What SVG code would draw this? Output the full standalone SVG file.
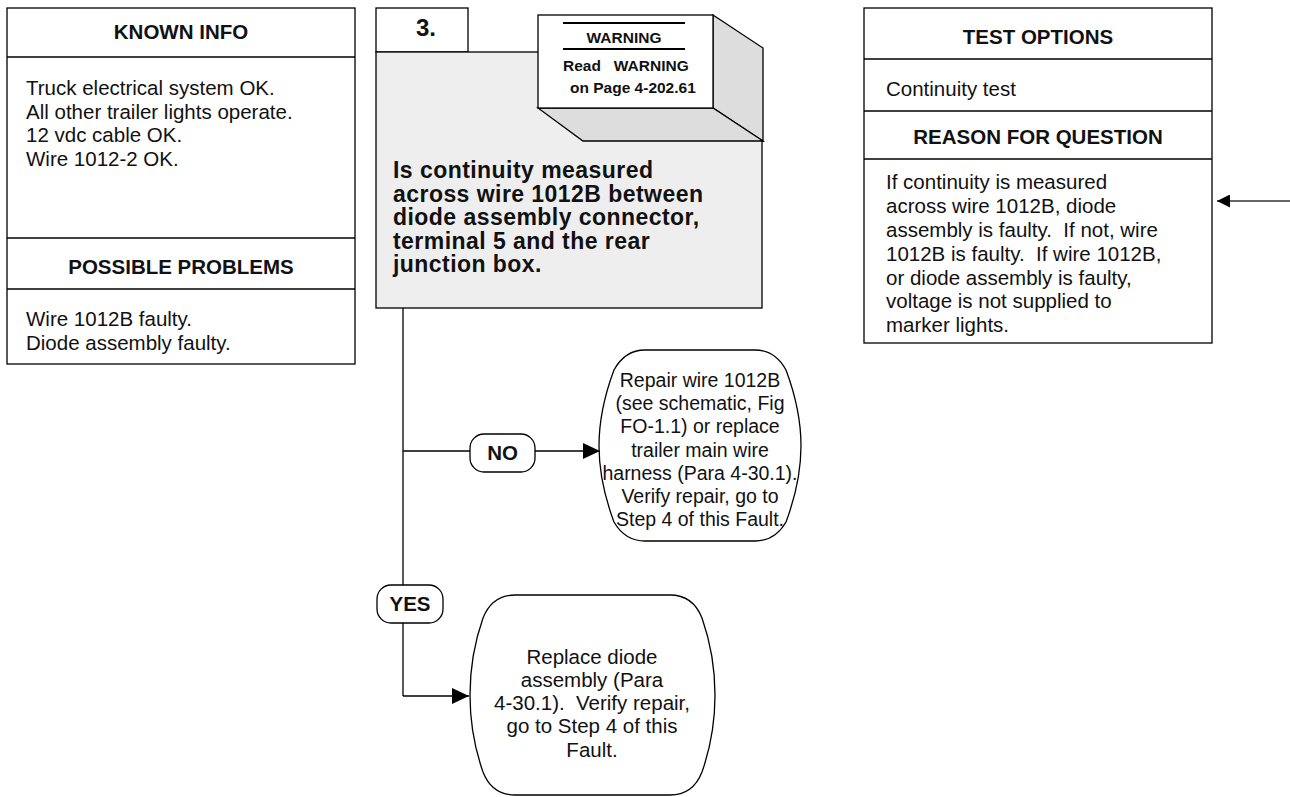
<svg xmlns="http://www.w3.org/2000/svg" width="1290" height="797" viewBox="0 0 1290 797">
<style>
.box{fill:#fff;stroke:#000;stroke-width:1.3}
.ln{stroke:#000;stroke-width:1.3;fill:none}
.t{font-family:"Liberation Sans",Arial,sans-serif;font-size:20.5px;fill:#111}
.s{font-size:19.5px}
.h{font-family:"Liberation Sans",Arial,sans-serif;font-size:20.5px;font-weight:bold;fill:#111;text-anchor:middle}
.q{font-family:"Liberation Sans",Arial,sans-serif;font-size:23px;font-weight:bold;fill:#111;letter-spacing:0.45px}
.w{font-family:"Liberation Sans",Arial,sans-serif;font-size:15.5px;font-weight:bold;fill:#111}
.c{text-anchor:middle}
</style>
<defs>
<marker id="ah" markerUnits="userSpaceOnUse" markerWidth="18" markerHeight="16" refX="17" refY="8" orient="auto">
<path d="M0,0 L17,8 L0,16 Z" fill="#000"/>
</marker>
<marker id="ahs" markerUnits="userSpaceOnUse" markerWidth="14" markerHeight="13" refX="13" refY="6.5" orient="auto">
<path d="M0,0 L13,6.5 L0,13 Z" fill="#000"/>
</marker>
</defs>

<g id="known-info">
<rect class="box" x="7" y="8" width="348" height="356"/>
<line class="ln" x1="7" y1="57" x2="355" y2="57"/>
<line class="ln" x1="7" y1="238" x2="355" y2="238"/>
<line class="ln" x1="7" y1="289" x2="355" y2="289"/>
<text class="h" x="181" y="39">KNOWN INFO</text>
<text class="t" x="26" y="95">Truck electrical system OK.</text>
<text class="t" x="26" y="118.5">All other trailer lights operate.</text>
<text class="t" x="26" y="142">12 vdc cable OK.</text>
<text class="t" x="26" y="165.5">Wire 1012-2 OK.</text>
<text class="h" x="181" y="274">POSSIBLE PROBLEMS</text>
<text class="t" x="26" y="326">Wire 1012B faulty.</text>
<text class="t" x="26" y="350">Diode assembly faulty.</text>
</g>

<g id="step3">
<rect class="box" x="376" y="8" width="92" height="44"/>
<text x="416" y="36" style="font-family:'Liberation Sans',Arial,sans-serif;font-size:24px;font-weight:bold;fill:#111">3.</text>
<rect x="376" y="52" width="386" height="256" fill="#eeeeee" stroke="#000" stroke-width="1.3"/>
<text class="q" x="393" y="178">Is continuity measured</text>
<text class="q" x="393" y="201.5">across wire 1012B between</text>
<text class="q" x="393" y="225">diode assembly connector,</text>
<text class="q" x="393" y="248.5">terminal 5 and the rear</text>
<text class="q" x="393" y="272">junction box.</text>
</g>

<g id="warning">
<polygon points="713,15 763,48 763,141 713,108" fill="#dddddd" stroke="#000" stroke-width="1.3"/>
<polygon points="538,108 713,108 763,141 583,141" fill="#dddddd" stroke="#000" stroke-width="1.3"/>
<rect class="box" x="538" y="15" width="175" height="93"/>
<line x1="563" y1="23" x2="685" y2="23" stroke="#000" stroke-width="2"/>
<line x1="563" y1="49" x2="685" y2="49" stroke="#000" stroke-width="2"/>
<text class="w c" x="624" y="43">WARNING</text>
<text class="w" x="563" y="71" xml:space="preserve">Read   WARNING</text>
<text class="w" x="570" y="93">on Page 4-202.61</text>
</g>

<g id="test-options">
<rect class="box" x="864" y="8" width="348" height="335"/>
<line class="ln" x1="864" y1="59" x2="1212" y2="59"/>
<line class="ln" x1="864" y1="111" x2="1212" y2="111"/>
<line class="ln" x1="864" y1="159" x2="1212" y2="159"/>
<text class="h" x="1038" y="44">TEST OPTIONS</text>
<text class="t" x="886" y="96">Continuity test</text>
<text class="h" x="1038" y="144">REASON FOR QUESTION</text>
<text class="t" x="886" y="189">If continuity is measured</text>
<text class="t" x="886" y="213">across wire 1012B, diode</text>
<text class="t" x="886" y="237" xml:space="preserve">assembly is faulty.  If not, wire</text>
<text class="t" x="886" y="261" xml:space="preserve">1012B is faulty.  If wire 1012B,</text>
<text class="t" x="886" y="285">or diode assembly is faulty,</text>
<text class="t" x="886" y="308">voltage is not supplied to</text>
<text class="t" x="886" y="332">marker lights.</text>
</g>

<g id="connectors">
<line x1="1290" y1="201" x2="1217" y2="201" stroke="#333" stroke-width="1.3" marker-end="url(#ahs)"/>
<line class="ln" x1="403" y1="308" x2="403" y2="696"/>
<line class="ln" x1="403" y1="451" x2="600" y2="451" marker-end="url(#ah)"/>
<line class="ln" x1="403" y1="696" x2="469" y2="696" marker-end="url(#ah)"/>
</g>

<g id="label-no">
<rect class="box" x="470" y="434" width="65" height="38" rx="14"/>
<text class="h" x="502.5" y="460">NO</text>
</g>

<g id="label-yes">
<rect class="box" x="377" y="585" width="66" height="38" rx="14"/>
<text class="h" x="410" y="611">YES</text>
</g>

<g id="repair-wire">
<path class="box" d="M645,350 H755 Q775,350 786,370 Q801,410 801,446 Q801,482 786,522 Q775,541 755,541 H645 Q625,541 614,522 Q599,482 599,446 Q599,410 614,370 Q625,350 645,350 Z"/>
<text class="t s c" x="700" y="387">Repair wire 1012B</text>
<text class="t s c" x="700" y="410">(see schematic, Fig</text>
<text class="t s c" x="700" y="433">FO-1.1) or replace</text>
<text class="t s c" x="700" y="457">trailer main wire</text>
<text class="t s c" x="700" y="480">harness (Para 4-30.1).</text>
<text class="t s c" x="700" y="503">Verify repair, go to</text>
<text class="t s c" x="700" y="526">Step 4 of this Fault.</text>
</g>

<g id="replace-diode">
<path class="box" d="M515,595 H670 Q693,595 702,618 Q715,655 715,695 Q715,735 702,772 Q693,795 670,795 H515 Q492,795 483,772 Q470,735 470,695 Q470,655 483,618 Q492,595 515,595 Z"/>
<text class="t c" x="592" y="664">Replace diode</text>
<text class="t c" x="592" y="687">assembly (Para</text>
<text class="t c" x="592" y="710" xml:space="preserve">4-30.1).  Verify repair,</text>
<text class="t c" x="592" y="733">go to Step 4 of this</text>
<text class="t c" x="592" y="757">Fault.</text>
</g>
</svg>
